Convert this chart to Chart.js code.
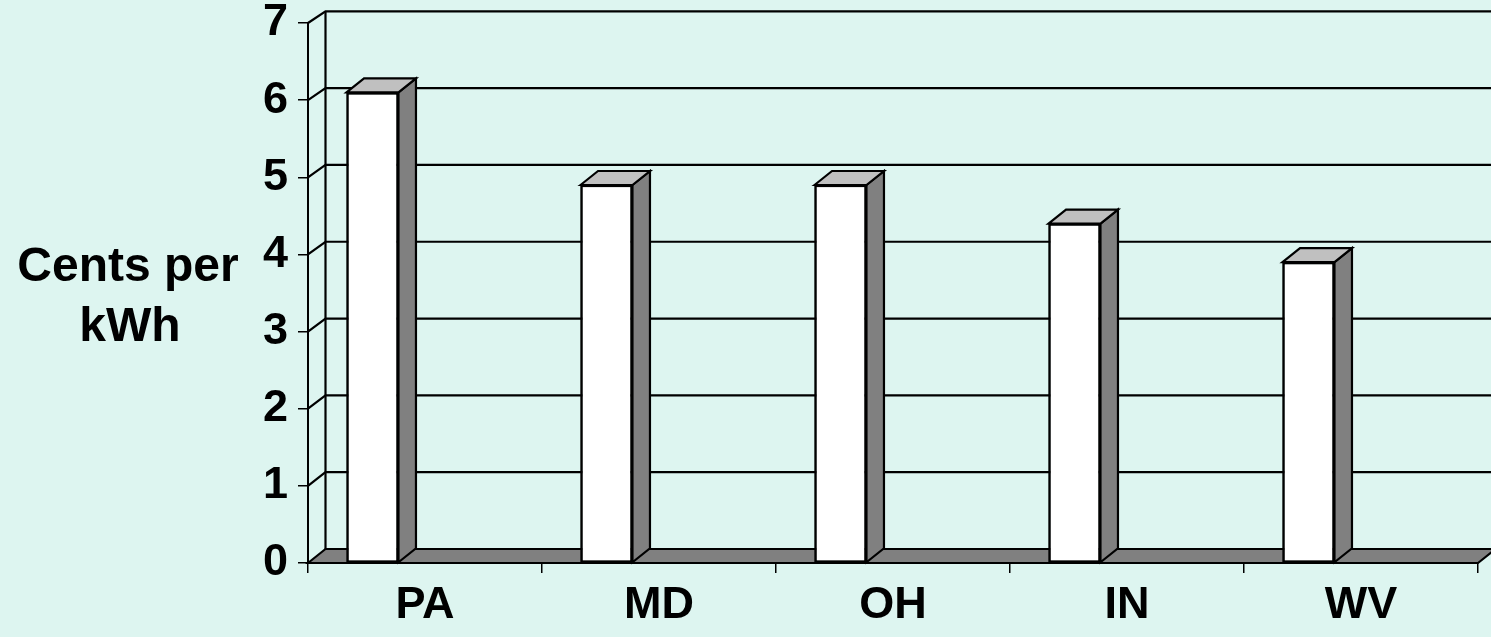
<!DOCTYPE html>
<html>
<head>
<meta charset="utf-8">
<script src="https://cdn.jsdelivr.net/npm/chart.js@4.4.1/dist/chart.umd.min.js"></script>
<style>
  html, body { margin: 0; padding: 0; background: #ddf5f0; }
  #wrap { width: 1491px; height: 637px; }
</style>
</head>
<body>
<div id="wrap"><canvas id="c" width="1491" height="637"></canvas></div>
<script>
// Wholesale generation cost by state
const categories = ['PA', 'MD', 'OH', 'IN', 'WV'];
const centsPerKwh = [6.1, 4.9, 4.9, 4.4, 3.9];
const yTickValues = [0, 1, 2, 3, 4, 5, 6, 7];
const yAxisTitle = ['Cents per', 'kWh'];

// Styling / projection constants
const FONT = '"Liberation Sans", Arial, Helvetica, sans-serif';
const BG = '#ddf5f0';
const SIDE_FILL = '#808080';
const TOP_FILL = '#c0c0c0';
const DEPTH_X = 17.5;          // horizontal depth of the 3-D box
const BAR_DEPTH_Y = 14;        // vertical depth of each column
const BAR_SHIFT = -52.5;       // columns sit toward the front-left of their slot
const wallDepthY = v => 14 - 0.33 * v;   // slight perspective on the back wall

const depth3d = {
  id: 'depth3d',
  beforeDraw(chart) {
    const { ctx, width, height } = chart;
    ctx.save();
    ctx.fillStyle = BG;
    ctx.fillRect(0, 0, width, height);
    ctx.restore();
  },
  beforeDatasetsDraw(chart) {
    const { ctx, chartArea, scales: { y } } = chart;
    const x0 = chartArea.left, x1 = chartArea.right;
    const bx0 = x0 + DEPTH_X, bx1 = x1 + DEPTH_X;
    ctx.save();
    ctx.strokeStyle = '#000';
    ctx.lineWidth = 2.2;
    ctx.lineJoin = 'miter';

    // side-wall diagonals and back-wall gridlines
    yTickValues.forEach(v => {
      if (v === 0) return;
      const fy = y.getPixelForValue(v);
      const by = fy - wallDepthY(v);
      ctx.beginPath();
      ctx.moveTo(x0, fy);
      ctx.lineTo(bx0, by);
      ctx.lineTo(chart.width + 10, by);
      ctx.stroke();
    });

    // left edge of the back wall
    const vTop = y.max;
    ctx.beginPath();
    ctx.moveTo(bx0, y.getPixelForValue(vTop) - wallDepthY(vTop));
    ctx.lineTo(bx0, y.getPixelForValue(0) - wallDepthY(0));
    ctx.stroke();

    // floor
    const fy0 = y.getPixelForValue(0);
    const by0 = fy0 - wallDepthY(0);
    ctx.beginPath();
    ctx.moveTo(x0, fy0);
    ctx.lineTo(bx0, by0);
    ctx.lineTo(bx1, by0);
    ctx.lineTo(x1, fy0);
    ctx.closePath();
    ctx.fillStyle = SIDE_FILL;
    ctx.fill();
    ctx.stroke();
    ctx.restore();

    // columns are drawn shifted within their category slot
    ctx.save();
    ctx.translate(BAR_SHIFT, 0);
  },
  afterDatasetsDraw(chart) {
    const { ctx } = chart;
    ctx.strokeStyle = '#000';
    ctx.lineWidth = 2.2;
    ctx.lineJoin = 'miter';
    chart.getDatasetMeta(0).data.forEach(bar => {
      const { x, y, base, width } = bar.getProps(['x', 'y', 'base', 'width'], true);
      const l = x - width / 2, r = x + width / 2;
      // right side face
      ctx.beginPath();
      ctx.moveTo(r, y);
      ctx.lineTo(r + DEPTH_X, y - BAR_DEPTH_Y);
      ctx.lineTo(r + DEPTH_X, base - BAR_DEPTH_Y);
      ctx.lineTo(r, base);
      ctx.closePath();
      ctx.fillStyle = SIDE_FILL;
      ctx.fill();
      ctx.stroke();
      // top face
      ctx.beginPath();
      ctx.moveTo(l, y);
      ctx.lineTo(l + DEPTH_X, y - BAR_DEPTH_Y);
      ctx.lineTo(r + DEPTH_X, y - BAR_DEPTH_Y);
      ctx.lineTo(r, y);
      ctx.closePath();
      ctx.fillStyle = TOP_FILL;
      ctx.fill();
      ctx.stroke();
      // re-stroke the front face outline
      ctx.strokeRect(l + 1, y + 1, width - 2, base - y - 1);
    });
    ctx.restore();
  },
  afterDraw(chart) {
    const { ctx } = chart;
    ctx.save();
    ctx.fillStyle = '#000';
    ctx.font = 'bold 48px ' + FONT;
    ctx.textAlign = 'center';
    ctx.textBaseline = 'alphabetic';
    ctx.fillText(yAxisTitle[0], 128, 281);
    ctx.fillText(yAxisTitle[1], 130, 341);
    ctx.restore();
  }
};

new Chart(document.getElementById('c'), {
  type: 'bar',
  data: {
    labels: categories,
    datasets: [{
      data: centsPerKwh,
      backgroundColor: '#ffffff',
      borderColor: '#000000',
      borderWidth: 2,
      borderSkipped: false,
      barPercentage: 0.222,
      categoryPercentage: 1.0
    }]
  },
  options: {
    responsive: false,
    devicePixelRatio: 1,
    animation: false,
    events: [],
    layout: { padding: { left: 0, right: 13, top: 23, bottom: 0 } },
    plugins: {
      legend: { display: false },
      tooltip: { enabled: false },
      title: { display: false }
    },
    scales: {
      x: {
        type: 'category',
        offset: true,
        grid: { offset: true, drawOnChartArea: false, drawTicks: true, tickLength: 10, color: '#000', lineWidth: 1.5 },
        border: { display: true, color: '#000', width: 2 },
        ticks: { color: '#000', padding: 10, font: { family: FONT, size: 45, weight: 'bold', lineHeight: 1 }, maxRotation: 0 },
        afterFit: s => { s.height = 74; s.paddingLeft = 0; s.paddingRight = 0; }
      },
      y: {
        min: 0,
        max: 7,
        afterBuildTicks: s => { s.ticks = yTickValues.map(v => ({ value: v })); },
        grid: { drawOnChartArea: false, drawTicks: true, tickLength: 10, color: '#000', lineWidth: 1.5 },
        border: { display: true, color: '#000', width: 2 },
        ticks: { color: '#000', padding: 10, font: { family: FONT, size: 45, weight: 'bold', lineHeight: 1 } },
        afterFit: s => { s.width = 308; s.paddingTop = 0; s.paddingBottom = 0; }
      }
    }
  },
  plugins: [depth3d]
});
</script>
</body>
</html>
